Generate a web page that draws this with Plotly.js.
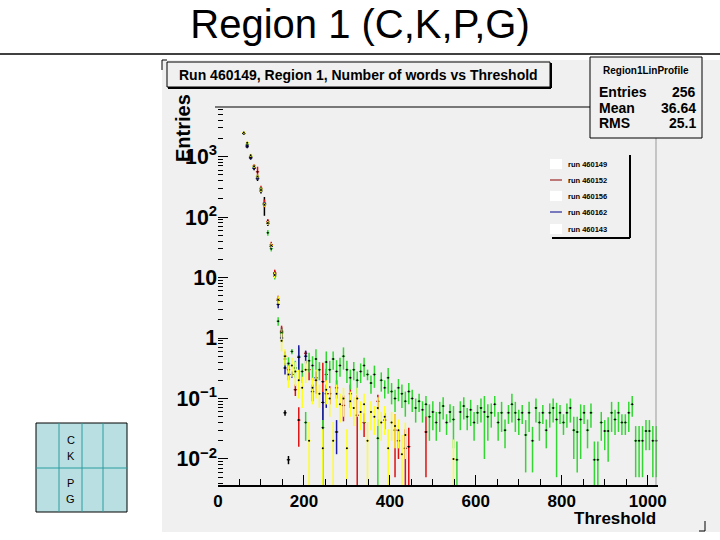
<!DOCTYPE html>
<html>
<head>
<meta charset="utf-8">
<script src="https://cdn.plot.ly/plotly-3.0.1.min.js"></script>
<style>
  body { margin: 0; background: #ffffff; }
  #chart { width: 720px; height: 540px; }
</style>
</head>
<body>
<div id="chart"></div>
<script>
// threshold bin centres (bin width 8) and profile values

var t149 = [60, 68, 76, 84, 92, 100, 108, 116, 124, 132, 140, 148, 156, 164];
var v149 = [2400, 1450, 950, 640, 430, 270, 160, 78, 33, 11.5, 4.2, 1.25, 0.058, 0.0097];
var e149 = [120, 80, 60, 45, 35, 25, 55, 7, 3.5, 1.4, 0.6, 0.25, 0.006, 0.0015];

var t152 = [68, 76, 84, 92, 100, 108, 116, 124, 132, 140, 148, 156, 164, 180, 188, 204, 212, 228, 244, 252,
            260, 276, 292, 308, 324, 340, 372, 388, 412, 420, 436, 444, 484];
var v152 = [1550, 980, 700, 560, 300, 170, 85, 35, 12, 4.4, 1.3, 0.5, 0.3, 0.14, 0.044, 0.56, 0.3, 0.2, 0.19, 0.25,
            0.12, 0.15, 0.077, 0.12, 0.053, 0.04, 0.09, 0.044, 0.03, 0.02, 0.015, 0.016, 0.028];
var e152 = [90, 60, 50, 120, 30, 25, 8, 4, 1.5, 0.6, 0.3, 0.1, 0.1, 0.03, 0.028, 0.05, 0.1, 0.08, 0.2, 0.06,
            0.04, 0.05, 0.035, 0.05, 0.06, 0.017, 0.025, 0.013, 0.025, 0.01, 0.016, 0.017, 0.023];

var t156 = [68, 76, 84, 92, 100, 108, 116, 124, 132, 140, 148,
            156, 164, 172, 180, 188, 196, 204, 212, 220, 228, 236, 244, 252, 260, 268, 276, 284, 292, 300, 308,
            316, 324, 332, 340, 348, 356, 364, 372, 380, 388, 396, 404, 412, 420, 428, 436, 444, 452, 460, 468,
            476, 484, 492, 500, 508, 516, 524, 532, 540, 548, 556, 564, 572, 580, 588, 596, 604, 612, 620, 628,
            636, 644, 652, 660, 668, 676, 684, 692, 700, 708, 716, 724, 732, 740, 748, 756, 764, 772, 780, 788,
            796, 804, 812, 820, 828, 836, 844, 852, 860, 868, 876, 884, 892, 900, 908, 916, 924, 932, 940, 948,
            956, 964, 972, 980, 988, 996, 1004, 1012, 1020];
var v156 = [1600, 1000, 680, 470, 290, 165, 55, 30, 10.5, 1.9, 1.2,
            0.45, 0.38, 0.6, 0.32, 0.5, 0.28, 0.04, 0.42, 0.35, 0.45, 0.3, 0.033, 0.4, 0.3, 0.45, 0.28, 0.35, 0.5, 0.3, 0.22,
            0.3, 0.2, 0.28, 0.35, 0.25, 0.18, 0.25, 0.022, 0.2, 0.15, 0.22, 0.13, 0.1, 0.15, 0.12, 0.09, 0.13, 0.1, 0.07, 0.09,
            0.065, 0.08, 0.05, 0.06, 0.04, 0.058, 0.075, 0.04, 0.06, 0.045, 0.0097, 0.06, 0.075, 0.05, 0.065, 0.04, 0.058, 0.07, 0.06, 0.05,
            0.058, 0.08, 0.04, 0.058, 0.03, 0.058, 0.08, 0.058, 0.045, 0.058, 0.025, 0.058, 0.02, 0.07, 0.04, 0.058, 0.03, 0.058, 0.07, 0.045,
            0.058, 0.04, 0.058, 0.07, 0.03, 0.028, 0.045, 0.058, 0.03, 0.058, 0.0097, 0.0097, 0.04, 0.029, 0.029, 0.058, 0.045, 0.058, 0.04, 0.04,
            0.058, 0.08, 0.02, 0.02, 0.02, 0.029, 0.029, 0.02, 0.02];
var e156 = [95, 60, 40, 30, 20, 12, 6, 3, 1.2, 0.3, 0.2,
            0.12, 0.1, 0.06, 0.1, 0.2, 0.1, 0.02, 0.15, 0.15, 0.2, 0.1, 0.035, 0.2, 0.12, 0.15, 0.15, 0.12, 0.2, 0.12, 0.08,
            0.1, 0.08, 0.1, 0.12, 0.05, 0.06, 0.1, 0.023, 0.07, 0.05, 0.1, 0.05, 0.04, 0.06, 0.05, 0.04, 0.05, 0.04, 0.03, 0.03,
            0.025, 0.03, 0.03, 0.03, 0.02, 0.03, 0.03, 0.015, 0.02, 0.03, 0.0098, 0.03, 0.03, 0.02, 0.03, 0.02, 0.02, 0.03, 0.05, 0.03,
            0.025, 0.03, 0.02, 0.03, 0.015, 0.02, 0.04, 0.03, 0.02, 0.02, 0.019, 0.03, 0.014, 0.03, 0.02, 0.02, 0.015, 0.025, 0.03, 0.04,
            0.02, 0.015, 0.025, 0.03, 0.02, 0.022, 0.035, 0.02, 0.015, 0.025, 0.0098, 0.0098, 0.02, 0.015, 0.02, 0.03, 0.02, 0.03, 0.015, 0.015,
            0.03, 0.03, 0.015, 0.015, 0.015, 0.015, 0.015, 0.015, 0.015];

var t162 = [68, 76, 84, 92, 100, 108, 116, 124, 132, 140, 148, 156, 172, 188, 204, 220, 228, 244, 252, 276];
var v162 = [1500, 960, 650, 440, 280, 165, 80, 33, 11, 3.6, 1.0, 0.32, 0.25, 0.48, 0.5, 0.13, 0.22, 0.086, 0.12, 0.028];
var e162 = [90, 60, 40, 30, 20, 12, 6, 3, 1.2, 0.5, 0.15, 0.07, 0.03, 0.28, 0.12, 0.04, 0.06, 0.042, 0.05, 0.016];

var t143 = [60, 68, 76, 84, 92, 100, 108, 116, 124, 132, 140, 148,
            156, 164, 172, 180, 188, 196, 204, 212, 220, 228, 236, 244, 252, 260, 268, 276, 284, 292, 300, 308,
            316, 324, 332, 340, 348, 356, 364, 372, 380, 388, 396, 404, 412, 420, 428, 436, 548];
var v143 = [2500, 1700, 1050, 690, 470, 280, 160, 80, 34, 11, 4.3, 0.9,
            0.5, 0.25, 0.35, 0.28, 0.2, 0.15, 0.3, 0.02, 0.15, 0.2, 0.12, 0.015, 0.14, 0.1, 0.02, 0.12, 0.08, 0.1, 0.015, 0.09,
            0.07, 0.1, 0.06, 0.08, 0.02, 0.06, 0.05, 0.07, 0.04, 0.05, 0.015, 0.04, 0.035, 0.03, 0.012, 0.025, 0.01];
var e143 = [150, 100, 60, 40, 30, 20, 12, 6, 3, 1.2, 0.6, 0.3,
            0.15, 0.1, 0.12, 0.12, 0.1, 0.08, 0.12, 0.021, 0.07, 0.1, 0.05, 0.016, 0.06, 0.05, 0.021, 0.05, 0.04, 0.05, 0.016, 0.04,
            0.035, 0.05, 0.03, 0.04, 0.021, 0.03, 0.025, 0.035, 0.02, 0.025, 0.016, 0.02, 0.02, 0.015, 0.013, 0.015, 0.011];

var FONT = 'Liberation Sans, Arial, sans-serif';

function hist(name, x, y, err, color) {
  return {
    type: 'scatter', mode: 'markers', name: name, x: x, y: y,
    marker: {size: 2, color: 'black'},
    error_y: {type: 'data', array: err, color: color, thickness: 1.5, width: 0},
    error_x: {type: 'constant', value: 4, color: color, thickness: 1, width: 0},
    showlegend: false
  };
}

var data = [
  hist('run 460149', t149, v149, e149, '#000000'),
  hist('run 460152', t152, v152, e152, '#dd1111'),
  hist('run 460156', t156, v156, e156, '#33d633'),
  hist('run 460162', t162, v162, e162, '#1a1aa0'),
  hist('run 460143', t143, v143, e143, '#ffff22')
];

// pixel -> paper helpers (plot area 218..658 x 107..485)
function X(px) { return (px - 218) / 440; }
function Y(py) { return (485 - py) / 378; }

function rect(x0, y0, x1, y1, fill, lc, lw, layer) {
  return {type: 'rect', xref: 'paper', yref: 'paper', x0: X(x0), x1: X(x1), y0: Y(y1), y1: Y(y0),
    fillcolor: fill, line: {color: lc || 'black', width: lw === undefined ? 1 : lw}, layer: layer || 'above'};
}
function seg(x0, y0, x1, y1, lc, lw) {
  return {type: 'line', xref: 'paper', yref: 'paper', x0: X(x0), x1: X(x1), y0: Y(y0), y1: Y(y1),
    line: {color: lc, width: lw}};
}
function txt(px, py, s, size, anchor, bold, extra) {
  var a = {xref: 'paper', yref: 'paper', x: X(px), y: Y(py), text: s, showarrow: false,
    xanchor: anchor || 'center', yanchor: 'middle',
    font: {family: FONT, size: size, color: 'black', weight: bold ? 'bold' : 'normal'}};
  for (var k in extra) a[k] = extra[k];
  return a;
}

var shapes = [
  rect(162, 60, 720, 532, '#f0f0f0', '#f0f0f0', 0, 'below'),
  seg(0, 54, 720, 54, 'black', 1.5),
  // frame
  seg(215, 107, 590, 107, 'black', 1),
  seg(656, 138, 656, 485, '#999999', 1),
  // corner marks
  seg(162, 60, 167, 60, 'black', 1), seg(162, 60, 162, 70, 'black', 1),
  seg(705, 521, 705, 531, 'black', 1), seg(699, 531, 705, 531, 'black', 1),
  // histogram title box
  rect(167, 62, 550, 87, '#f0f0f0', 'black', 1),
  seg(168, 88, 551, 88, 'black', 2), seg(551, 63, 551, 88, 'black', 2),
  // stats box
  rect(590, 57, 702, 138, '#f0f0f0', 'black', 1),
  // legend
  rect(550, 152, 630, 237, '#f0f0f0', '#f0f0f0', 0),
  seg(630, 155, 630, 238, 'black', 2), seg(552, 238, 630, 238, 'black', 2),
  rect(550, 159, 562, 169, '#ffffff', '#ffffff', 0),
  seg(550, 180, 562, 180, '#8b0000', 1),
  rect(550, 191, 562, 201, '#ffffff', '#ffffff', 0),
  seg(550, 212, 562, 212, '#00008b', 1),
  rect(550, 224, 562, 234, '#ffffff', '#ffffff', 0),
  // C K P G box
  rect(36, 423, 127, 512, '#b9dfe3', 'black', 1),
  seg(59, 423, 59, 512, '#2a9d9d', 1),
  seg(82, 423, 82, 512, '#2a9d9d', 1),
  seg(103, 423, 103, 512, '#2a9d9d', 1),
  seg(36, 468, 127, 468, '#2a9d9d', 1)
];

var annotations = [
  txt(358.5, 75, 'Run 460149, Region 1, Number of words vs Threshold', 14, 'center', true),
  txt(646, 71, 'Region1LinProfile', 10, 'center', true),
  txt(597, 92, 'Entries', 14, 'left', true), txt(698, 92, '256', 14, 'right', true),
  txt(597, 108, 'Mean', 14, 'left', true), txt(698, 108, '36.64', 14, 'right', true),
  txt(597, 123, 'RMS', 14, 'left', true), txt(698, 123, '25.1', 14, 'right', true),
  txt(566, 164, 'run 460149', 7.5, 'left', true),
  txt(566, 180, 'run 460152', 7.5, 'left', true),
  txt(566, 196, 'run 460156', 7.5, 'left', true),
  txt(566, 212, 'run 460162', 7.5, 'left', true),
  txt(566, 229, 'run 460143', 7.5, 'left', true),
  txt(183, 128, 'Entries', 20, 'center', true, {textangle: -90}),
  txt(658, 518, 'Threshold', 17, 'right', true),
  txt(70.5, 440, 'C', 11, 'center', false),
  txt(70.5, 456, 'K', 11, 'center', false),
  txt(70.5, 483, 'P', 11, 'center', false),
  txt(70.5, 499, 'G', 11, 'center', false)
];

var layout = {
  width: 720, height: 540,
  margin: {l: 218, r: 62, t: 107, b: 55},
  paper_bgcolor: '#ffffff',
  plot_bgcolor: '#f0f0f0',
  font: {family: FONT, color: 'black'},
  title: {text: 'Region 1 (C,K,P,G)', font: {family: FONT, size: 40, color: 'black'},
          xref: 'container', x: 0.5, y: 1 - 24 / 540, yanchor: 'middle'},
  showlegend: false,
  hovermode: false,
  xaxis: {
    range: [0, 1024], dtick: 200, tick0: 0,
    ticks: 'inside', ticklen: 10, tickwidth: 1, tickcolor: 'black',
    minor: {dtick: 50, ticks: 'inside', ticklen: 6, tickcolor: 'black'},
    showline: true, linecolor: 'black', linewidth: 1.5,
    showgrid: false, zeroline: false,
    tickfont: {family: FONT, size: 17, weight: 'bold'}
  },
  yaxis: {
    type: 'log', range: [-2.43, 3.82], dtick: 1,
    exponentformat: 'power',
    ticks: 'inside', ticklen: 10, tickwidth: 1, tickcolor: 'black',
    minor: {ticks: 'inside', ticklen: 5, tickcolor: 'black'},
    showline: false, showgrid: false, zeroline: false,
    tickfont: {family: FONT, size: 17, weight: 'bold'}
  },
  shapes: shapes,
  annotations: annotations
};

Plotly.newPlot('chart', data, layout, {displayModeBar: false, staticPlot: true});
</script>
</body>
</html>
